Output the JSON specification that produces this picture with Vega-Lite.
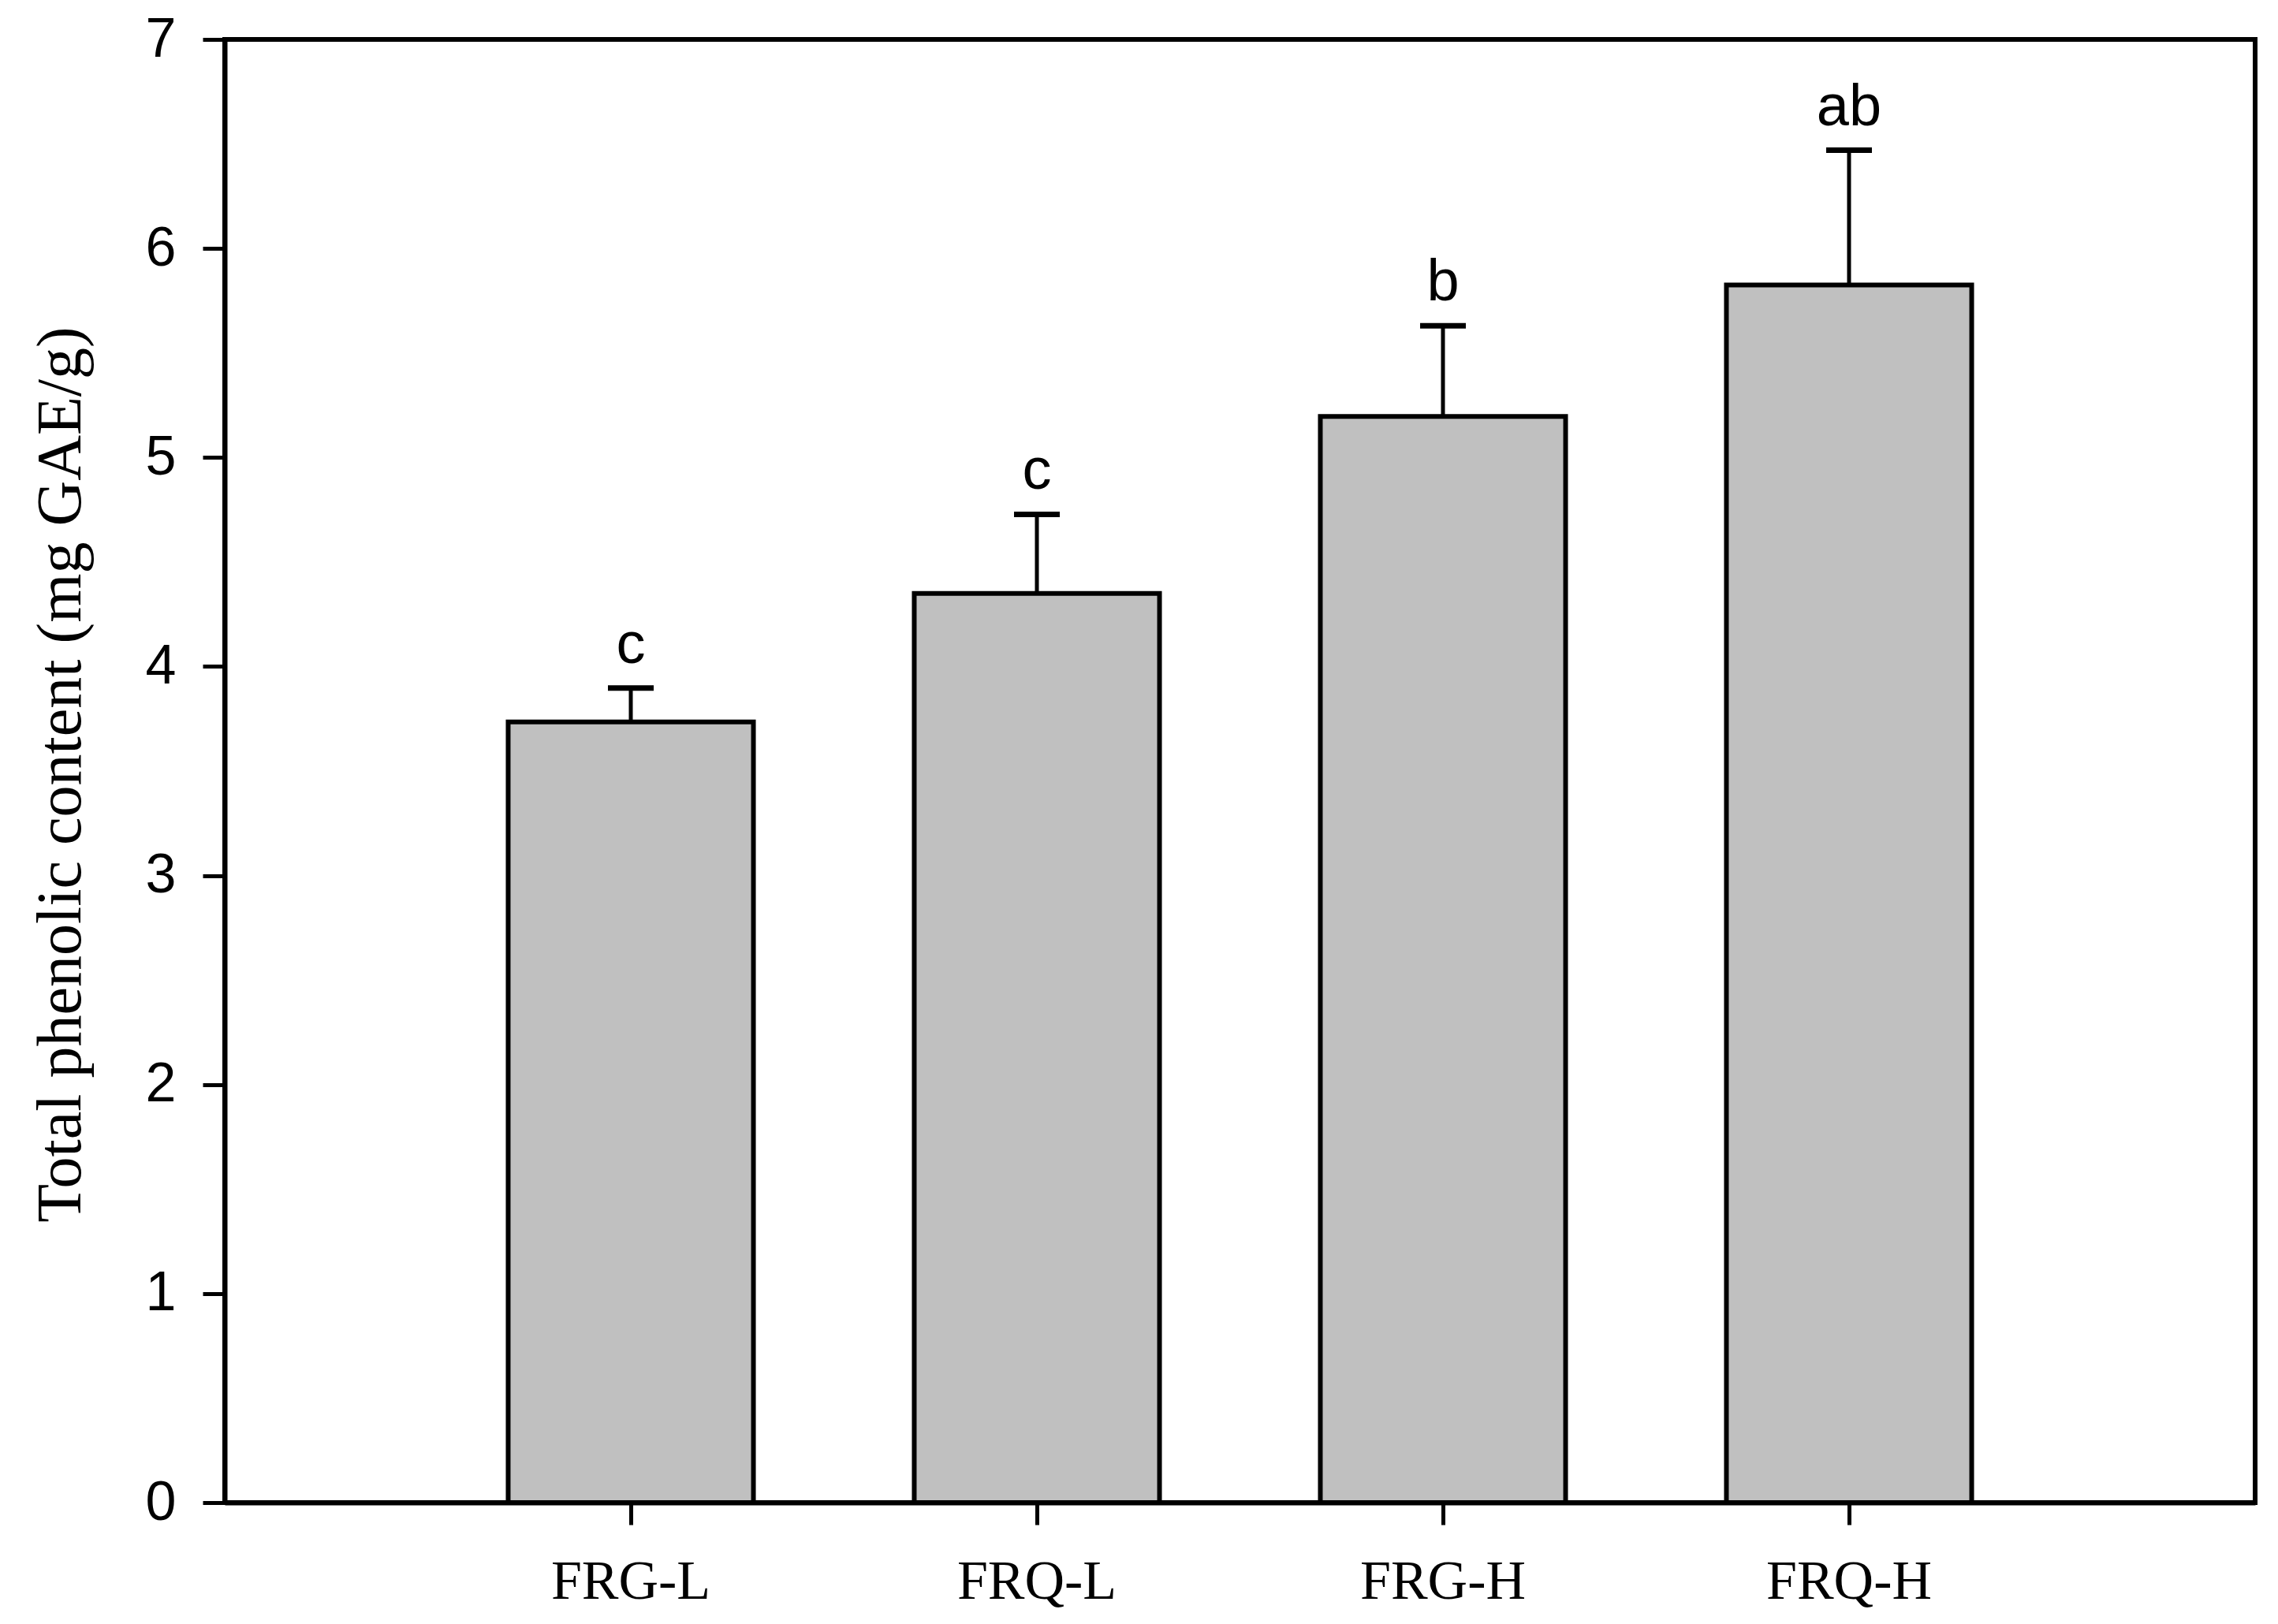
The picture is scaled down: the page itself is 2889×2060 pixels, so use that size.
{
  "$schema": "https://vega.github.io/schema/vega-lite/v6.json",
  "autosize": {"type": "none"},
  "width": 2575,
  "height": 1856,
  "padding": {"left": 285, "top": 50, "right": 29, "bottom": 154},
  "background": "white",
  "config": {
    "view": {"stroke": "black", "strokeWidth": 6},
    "axis": {"grid": false, "domainColor": "black", "domainWidth": 6, "tickColor": "black", "tickWidth": 5, "tickSize": 28, "labelColor": "black", "titleColor": "black", "labelLimit": 0}
  },
  "data": {
    "values": [
      {"group": "FRG-L", "mean": 3.735, "upper": 3.897, "letter": "c"},
      {"group": "FRQ-L", "mean": 4.35, "upper": 4.728, "letter": "c"},
      {"group": "FRG-H", "mean": 5.196, "upper": 5.63, "letter": "b"},
      {"group": "FRQ-H", "mean": 5.825, "upper": 6.47, "letter": "ab"}
    ]
  },
  "encoding": {
    "x": {
      "field": "group",
      "type": "nominal",
      "sort": null,
      "scale": {"type": "band", "paddingInner": 0.396, "paddingOuter": 0.698},
      "axis": {
        "title": null,
        "labelAngle": 0,
        "labelFont": "Liberation Serif",
        "labelFontSize": 70,
        "labelPadding": 38,
        "bandPosition": 0.5
      }
    }
  },
  "layer": [
    {
      "mark": {"type": "bar", "fill": "#C0C0C0", "stroke": "black", "strokeWidth": 6},
      "encoding": {
        "y": {
          "field": "mean",
          "type": "quantitative",
          "scale": {"domain": [0, 7], "nice": false, "zero": true},
          "axis": {
            "values": [0, 1, 2, 3, 4, 5, 6, 7],
            "format": "d",
            "title": "Total phenolic content (mg GAE/g)",
            "titleFont": "Liberation Serif",
            "titleFontSize": 80,
            "titleFontWeight": "normal",
            "titleBaseline": "alphabetic",
            "titleX": -184,
            "titleY": 932,
            "titleAngle": -90,
            "titleAlign": "center",
            "labelFont": "Liberation Sans",
            "labelFontSize": 70,
            "labelPadding": 34
          }
        }
      }
    },
    {
      "mark": {"type": "rule", "stroke": "black", "strokeWidth": 5},
      "encoding": {
        "y": {"field": "mean", "type": "quantitative"},
        "y2": {"field": "upper"}
      }
    },
    {
      "mark": {"type": "tick", "color": "black", "opacity": 1, "size": 58, "thickness": 7, "orient": "horizontal"},
      "encoding": {
        "y": {"field": "upper", "type": "quantitative"}
      }
    },
    {
      "mark": {"type": "text", "font": "Liberation Sans", "fontSize": 74, "baseline": "alphabetic", "align": "center", "dy": -32, "color": "black"},
      "encoding": {
        "y": {"field": "upper", "type": "quantitative"},
        "text": {"field": "letter"}
      }
    }
  ]
}
